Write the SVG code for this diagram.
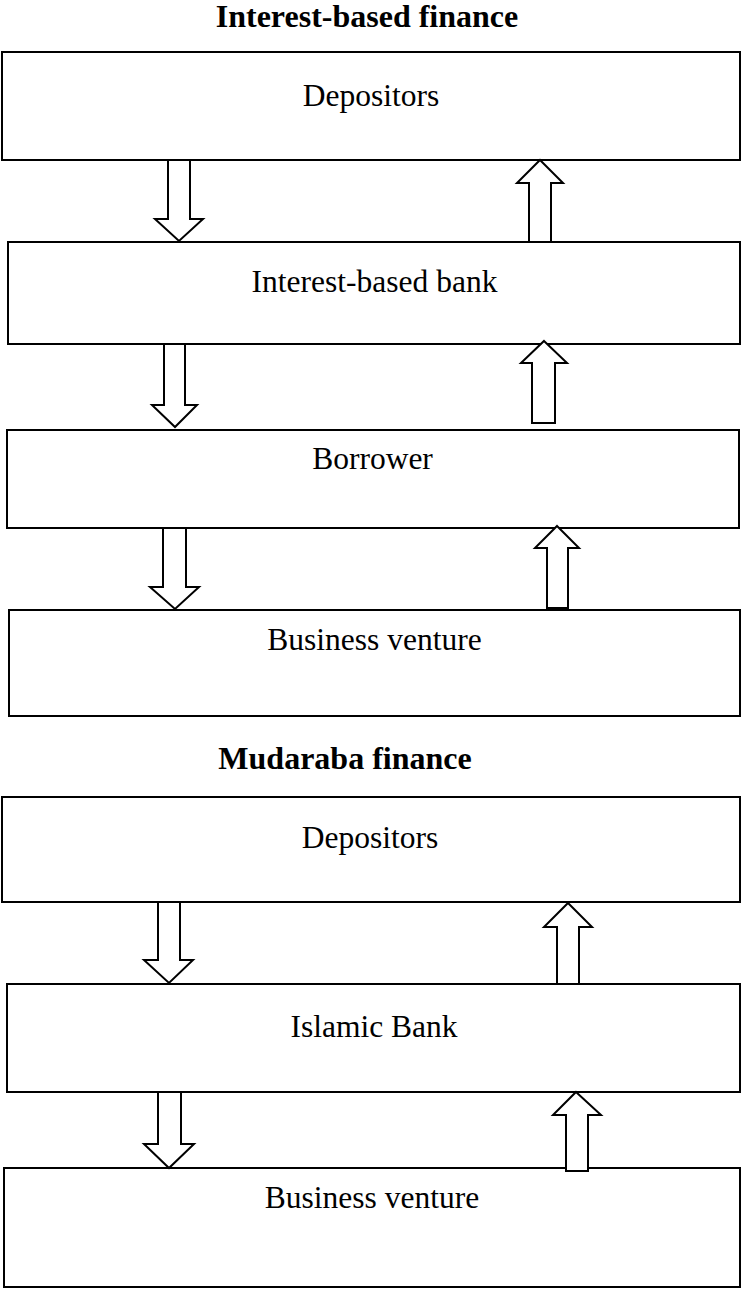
<svg xmlns="http://www.w3.org/2000/svg" width="742" height="1289" viewBox="0 0 742 1289">
<style>
.box{fill:#fff;stroke:#000;stroke-width:2}
.arr{fill:#fff;stroke:#000;stroke-width:2;stroke-linejoin:miter}
.lbl{font-family:"Liberation Serif","Times New Roman",serif;font-size:31.5px;fill:#000;text-anchor:middle}
.ttl{font-family:"Liberation Serif","Times New Roman",serif;font-size:32px;font-weight:bold;fill:#000;text-anchor:middle}
</style>
<rect width="742" height="1289" fill="#fff"/>
<text class="ttl" x="367" y="27">Interest-based finance</text>
<text class="ttl" x="345" y="769">Mudaraba finance</text>
<g id="n-depositors1"><rect class="box" x="2" y="52" width="738" height="108"/><text class="lbl" x="371" y="106">Depositors</text></g>
<g id="n-ibank"><rect class="box" x="8" y="242" width="732" height="102"/><text class="lbl" x="374.5" y="292">Interest-based bank</text></g>
<g id="n-borrower"><rect class="box" x="7" y="430" width="732" height="98"/><text class="lbl" x="372.5" y="469">Borrower</text></g>
<g id="n-venture1"><rect class="box" x="9" y="610" width="731" height="106"/><text class="lbl" x="374.5" y="650">Business venture</text></g>
<g id="n-depositors2"><rect class="box" x="2" y="797" width="738" height="105"/><text class="lbl" x="370" y="848">Depositors</text></g>
<g id="n-islamic"><rect class="box" x="7" y="984" width="733" height="108"/><text class="lbl" x="374" y="1037">Islamic Bank</text></g>
<g id="n-venture2"><rect class="box" x="4" y="1168" width="736" height="119"/><text class="lbl" x="372" y="1208">Business venture</text></g>
<g id="connectors">
<polygon class="arr" points="168,160 190,160 190,219 203,219 179,241 155,219 168,219"/>
<polygon class="arr" points="540,160 563,183 551,183 551,242 529,242 529,183 517,183"/>
<polygon class="arr" points="164,344 185,344 185,405 197,405 175,427 152,405 164,405"/>
<polygon class="arr" points="544,341 567,363 555,363 555,423 532,423 532,363 521,363"/>
<polygon class="arr" points="163,528 186,528 186,587 199,587 175,609 150,587 163,587"/>
<polygon class="arr" points="557,526 579,548 568,548 568,608 547,608 547,548 535,548"/>
<polygon class="arr" points="158,902 180,902 180,960 193,960 169,983 144,960 158,960"/>
<polygon class="arr" points="568,903 592,927 579,927 579,984 557,984 557,927 544,927"/>
<polygon class="arr" points="158,1092 181,1092 181,1144 194,1144 169,1168 144,1144 158,1144"/>
<polygon class="arr" points="576,1092 601,1115 588,1115 588,1171 566,1171 566,1115 553,1115"/>
</g>
</svg>
